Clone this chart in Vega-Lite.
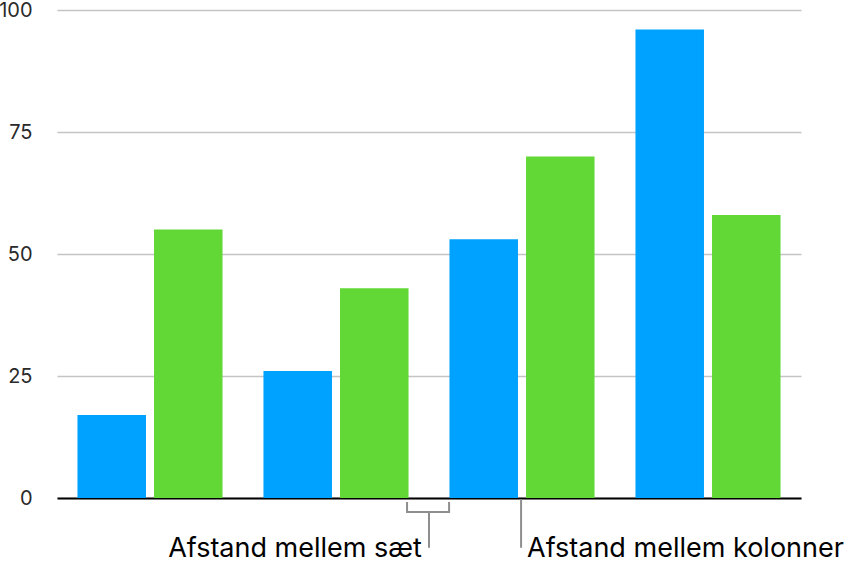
{
  "$schema": "https://vega.github.io/schema/vega-lite/v6.json",
  "width": 744,
  "height": 488,
  "autosize": {"type": "none"},
  "padding": {"left": 57, "top": 10, "right": 53, "bottom": 77},
  "background": "white",
  "config": {"view": {"stroke": null}, "font": "Inter"},
  "datasets": {
    "bars": [
      {"group": "1", "series": "A", "value": 17},
      {"group": "1", "series": "B", "value": 55},
      {"group": "2", "series": "A", "value": 26},
      {"group": "2", "series": "B", "value": 43},
      {"group": "3", "series": "A", "value": 53},
      {"group": "3", "series": "B", "value": 70},
      {"group": "4", "series": "A", "value": 96},
      {"group": "4", "series": "B", "value": 58}
    ],
    "bracket": [
      {"pos": 1.882, "level": -0.8, "order": 1},
      {"pos": 1.882, "level": -2.87, "order": 2},
      {"pos": 2.108, "level": -2.87, "order": 3},
      {"pos": 2.108, "level": -0.8, "order": 4}
    ],
    "stems": [
      {"pos": 2.0, "top": -2.87, "bottom": -10.2},
      {"pos": 2.495, "top": -0.25, "bottom": -10.2}
    ],
    "labels": [
      {"pos": 1.962, "level": -10.4, "label": "Afstand mellem sæt", "side": "right"},
      {"pos": 2.527, "level": -10.4, "label": "Afstand mellem kolonner", "side": "left"}
    ]
  },
  "layer": [
    {
      "data": {"name": "bars"},
      "mark": {"type": "bar"},
      "encoding": {
        "x": {
          "field": "group", "type": "nominal",
          "scale": {"paddingInner": 0.22, "paddingOuter": 0.11},
          "axis": {"labels": false, "ticks": false, "title": null, "domainColor": "#000000", "domainWidth": 2}
        },
        "xOffset": {"field": "series", "type": "nominal", "scale": {"paddingInner": 0.105, "paddingOuter": 0}},
        "y": {
          "field": "value", "type": "quantitative",
          "scale": {"domain": [0, 100], "nice": false},
          "axis": {
            "values": [0, 25, 50, 75, 100], "title": null, "domain": false, "ticks": false,
            "labelPadding": 25, "labelFontSize": 20, "labelColor": "#2a2a2a", "labelFont": "Inter",
            "gridColor": "#c4c4c4", "gridWidth": 1.5
          }
        },
        "color": {
          "field": "series", "type": "nominal",
          "scale": {"domain": ["A", "B"], "range": ["#00A2FF", "#61D836"]},
          "legend": null
        }
      }
    },
    {
      "data": {"name": "bracket"},
      "mark": {"type": "line", "color": "#8e8e8e", "strokeWidth": 2, "clip": false},
      "encoding": {
        "x": {"field": "pos", "type": "quantitative", "scale": {"domain": [0, 4], "nice": false, "zero": false}, "axis": null},
        "y": {"field": "level", "type": "quantitative"},
        "order": {"field": "order"}
      }
    },
    {
      "data": {"name": "stems"},
      "mark": {"type": "rule", "color": "#8e8e8e", "strokeWidth": 2, "clip": false},
      "encoding": {
        "x": {"field": "pos", "type": "quantitative", "scale": {"domain": [0, 4], "nice": false, "zero": false}, "axis": null},
        "y": {"field": "top", "type": "quantitative"},
        "y2": {"field": "bottom"}
      }
    },
    {
      "data": {"name": "labels"},
      "transform": [{"filter": "datum.side === 'right'"}],
      "mark": {"type": "text", "align": "right", "baseline": "middle", "fontSize": 27, "font": "Inter", "color": "#000000", "clip": false},
      "encoding": {
        "x": {"field": "pos", "type": "quantitative", "scale": {"domain": [0, 4], "nice": false, "zero": false}, "axis": null},
        "y": {"field": "level", "type": "quantitative"},
        "text": {"field": "label"}
      }
    },
    {
      "data": {"name": "labels"},
      "transform": [{"filter": "datum.side === 'left'"}],
      "mark": {"type": "text", "align": "left", "baseline": "middle", "fontSize": 27, "font": "Inter", "color": "#000000", "clip": false},
      "encoding": {
        "x": {"field": "pos", "type": "quantitative", "scale": {"domain": [0, 4], "nice": false, "zero": false}, "axis": null},
        "y": {"field": "level", "type": "quantitative"},
        "text": {"field": "label"}
      }
    }
  ],
  "resolve": {"scale": {"x": "independent"}, "axis": {"x": "independent"}}
}
